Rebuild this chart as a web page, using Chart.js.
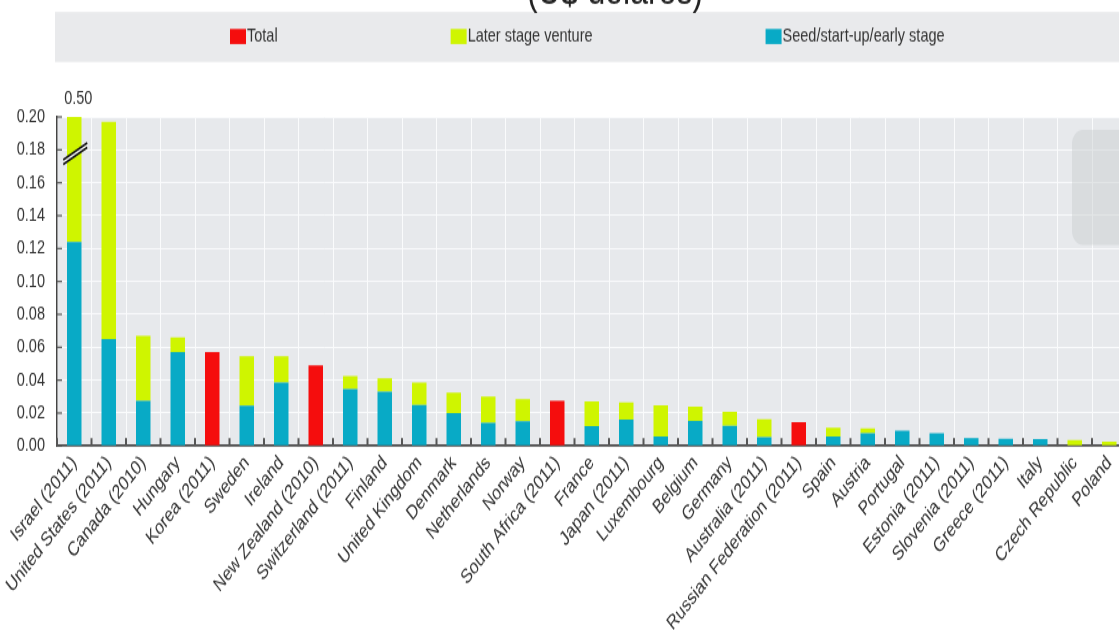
<!DOCTYPE html>
<html>
<head>
<meta charset="utf-8">
<script src="https://cdn.jsdelivr.net/npm/chart.js@4.4.0/dist/chart.umd.min.js"></script>
<style>
  html, body { margin: 0; padding: 0; background: #fff; overflow: hidden; }
  #wrap { width: 1119px; height: 630px; overflow: hidden; position: relative; }
  /* the source picture is stretched vertically, so draw short and stretch */
  #box { position: absolute; left: 0; top: 0; width: 1140px; height: 485px;
         transform: scaleY(1.299); transform-origin: 0 0; }
</style>
</head>
<body>
<div id="wrap"><div id="box"><canvas id="vcChart"></canvas></div></div>
<script>
const countries = ['Israel (2011)', 'United States (2011)', 'Canada (2010)', 'Hungary', 'Korea (2011)',
  'Sweden', 'Ireland', 'New Zealand (2010)', 'Switzerland (2011)', 'Finland', 'United Kingdom',
  'Denmark', 'Netherlands', 'Norway', 'South Africa (2011)', 'France', 'Japan (2011)', 'Luxembourg',
  'Belgium', 'Germany', 'Australia (2011)', 'Russian Federation (2011)', 'Spain', 'Austria',
  'Portugal', 'Estonia (2011)', 'Slovenia (2011)', 'Greece (2011)', 'Italy', 'Czech Republic', 'Poland'];

// seed/start-up/early stage
const seedValues = [0.124, 0.065, 0.0275, 0.057, null, 0.0245, 0.0385, null, 0.0345, 0.033, 0.025,
  0.020, 0.014, 0.015, null, 0.012, 0.016, 0.0057, 0.0152, 0.0122, 0.0053, null, 0.0057, 0.0077,
  0.0093, 0.0077, 0.0047, 0.0043, 0.0041, 0, 0];

// later stage venture
const laterValues = [0.376, 0.132, 0.0395, 0.009, null, 0.030, 0.016, null, 0.008, 0.008, 0.0135,
  0.0125, 0.016, 0.0135, null, 0.015, 0.0105, 0.019, 0.0087, 0.0085, 0.011, null, 0.0054, 0.003,
  0, 0, 0, 0, 0, 0.0035, 0.0026];

// only total available
const totalValues = [null, null, null, null, 0.057, null, null, 0.049, null, null, null,
  null, null, null, 0.0274, null, null, null, null, null, null, 0.0144, null, null,
  null, null, null, null, null, null, null];

const yMax = 0.20;
const yStep = 0.02;
const legendOrder = [0, 2, 1]; // Total, Later stage, Seed

const FONT = "'Liberation Sans', Arial, sans-serif";
const TEXT = '#333';

const decor = {
  id: 'decor',
  beforeDraw(chart) {
    const { ctx, chartArea: a } = chart;
    ctx.save();
    // legend band
    ctx.fillStyle = '#e9eaec';
    ctx.fillRect(55, 9.2, chart.width - 55, 38.5);
    // plot background
    ctx.fillStyle = '#e7e9ec';
    ctx.fillRect(a.left, a.top, a.right - a.left, a.bottom - a.top);
    ctx.restore();
  },
  afterDraw(chart) {
    const { ctx, chartArea: a } = chart;
    const xs = chart.scales.x, ys = chart.scales.y;
    ctx.save();

    // title (cut off at the top)
    ctx.fillStyle = '#222';
    ctx.font = '32px ' + FONT;
    ctx.textAlign = 'center';
    ctx.textBaseline = 'alphabetic';
    ctx.fillText('(U$ dolares)', 615, 2.5);

    // legend
    ctx.font = '14.5px ' + FONT;
    ctx.textBaseline = 'middle';
    ctx.textAlign = 'left';
    let lx = 230;
    legendOrder.forEach(i => {
      const ds = chart.data.datasets[i];
      ctx.fillStyle = ds.backgroundColor;
      ctx.fillRect(lx, 22.3, 16, 11.6);
      ctx.fillStyle = TEXT;
      ctx.fillText(ds.label, lx + 17, 28.3);
      lx += 17 + ctx.measureText(ds.label).width + 173;
    });

    // inner tick marks
    ctx.strokeStyle = '#555';
    ctx.lineWidth = 2;
    for (let i = 0; i <= countries.length; i++) {
      const x = xs.getPixelForValue(i - 0.5);
      ctx.beginPath();
      ctx.moveTo(x, a.bottom);
      ctx.lineTo(x, a.bottom - 6);
      ctx.stroke();
    }
    ctx.lineWidth = 1.2;
    ys.ticks.forEach(t => {
      const y = ys.getPixelForValue(t.value);
      ctx.beginPath();
      ctx.moveTo(a.left, y);
      ctx.lineTo(a.left + 5, y);
      ctx.stroke();
    });

    // truncated bars: break marks and value label
    countries.forEach((c, i) => {
      const tot = (seedValues[i] || 0) + (laterValues[i] || 0) + (totalValues[i] || 0);
      if (tot <= yMax) return;
      const x = xs.getPixelForValue(i);
      const yb = ys.getPixelForValue(yMax - 0.0225);
      ctx.fillStyle = '#f4f5f6';
      ctx.beginPath();
      ctx.moveTo(x - 11, yb + 4.5);
      ctx.lineTo(x + 13, yb - 8.5);
      ctx.lineTo(x + 13, yb - 5);
      ctx.lineTo(x - 11, yb + 8);
      ctx.closePath();
      ctx.fill();
      ctx.strokeStyle = '#111';
      ctx.lineWidth = 1.5;
      ctx.beginPath();
      ctx.moveTo(x - 11, yb + 4.5); ctx.lineTo(x + 13, yb - 8.5);
      ctx.moveTo(x - 11, yb + 8); ctx.lineTo(x + 13, yb - 5);
      ctx.stroke();
      ctx.fillStyle = TEXT;
      ctx.font = '14.5px ' + FONT;
      ctx.textAlign = 'center';
      ctx.textBaseline = 'bottom';
      ctx.fillText(tot.toFixed(2), x + 4, a.top - 7);
    });

    // grey rounded panel on the right edge
    ctx.fillStyle = 'rgba(200,203,207,0.45)';
    ctx.beginPath();
    ctx.roundRect(1072, 100, 80, 88.5, 11);
    ctx.fill();
    ctx.restore();
  }
};

new Chart(document.getElementById('vcChart'), {
  type: 'bar',
  data: {
    labels: countries,
    datasets: [
      { label: 'Total', data: totalValues, backgroundColor: '#f50d0d' },
      { label: 'Seed/start-up/early stage', data: seedValues, backgroundColor: '#08aac6' },
      { label: 'Later stage venture', data: laterValues, backgroundColor: '#cff500' }
    ]
  },
  options: {
    responsive: true,
    maintainAspectRatio: false,
    animation: false,
    layout: { padding: { top: 90, right: 13.5, left: 0, bottom: 0 } },
    datasets: { bar: { barPercentage: 0.42, categoryPercentage: 1 } },
    plugins: { legend: { display: false }, tooltip: { enabled: false } },
    scales: {
      x: {
        stacked: true,
        grid: { color: '#fafbfc', lineWidth: 1, offset: true, drawTicks: false },
        border: { color: '#444', width: 1.8 },
        ticks: {
          autoSkip: false, minRotation: 45, maxRotation: 45, padding: 4,
          color: TEXT, font: { family: FONT, size: 15.5 }
        },
        afterFit(s) { s.height = 485 - 343.3; s.paddingLeft = 0; s.paddingRight = 0; }
      },
      y: {
        stacked: true,
        min: 0, max: yMax,
        grid: { color: '#fafbfc', lineWidth: 1, drawTicks: false },
        border: { color: '#444', width: 1.5 },
        ticks: {
          stepSize: yStep, padding: 12, color: TEXT,
          font: { family: FONT, size: 14.5 },
          callback: v => v.toFixed(2)
        },
        afterFit(s) { s.width = 57; }
      }
    }
  },
  plugins: [decor]
});
</script>
</body>
</html>
